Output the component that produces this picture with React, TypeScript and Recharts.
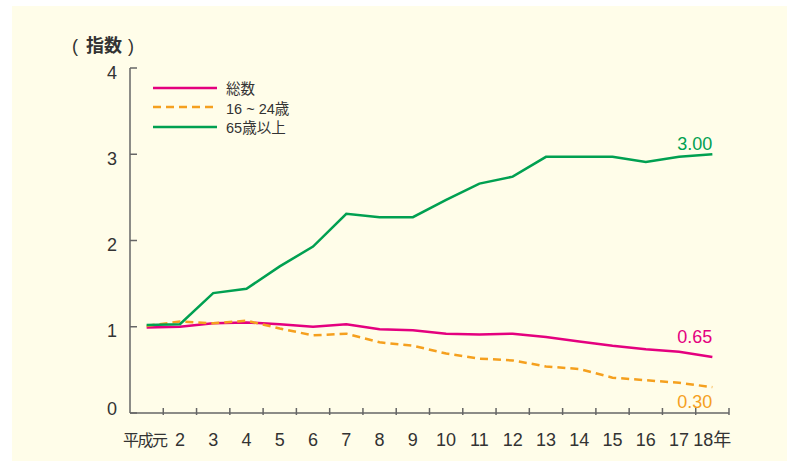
import { Legend, LabelList, Line, LineChart, XAxis, YAxis } from 'recharts';

const years = ['平成元', '2', '3', '4', '5', '6', '7', '8', '9', '10', '11', '12', '13', '14', '15', '16', '17', '18年'];
const total = [0.99, 1.0, 1.04, 1.05, 1.03, 1.0, 1.03, 0.97, 0.96, 0.92, 0.91, 0.92, 0.88, 0.83, 0.78, 0.74, 0.71, 0.65];
const youth = [1.01, 1.06, 1.04, 1.07, 0.98, 0.9, 0.92, 0.82, 0.78, 0.69, 0.63, 0.61, 0.54, 0.51, 0.41, 0.38, 0.35, 0.3];
const elderly = [1.02, 1.03, 1.39, 1.44, 1.7, 1.93, 2.31, 2.27, 2.27, 2.47, 2.66, 2.74, 2.97, 2.97, 2.97, 2.91, 2.97, 3.0];
const yTicks = [0, 1, 2, 3, 4];

const data = years.map((year, i) => ({
  year,
  total: total[i],
  youth: youth[i],
  elderly: elderly[i],
}));

const FONT = '"Liberation Sans", Arial, "Noto Sans CJK JP", sans-serif';
const AXIS = '#666666';
const TEXT = '#333333';

const series = [
  { key: 'total', name: '総数', color: '#E4007F', dash: undefined, labelDy: -14 },
  { key: 'youth', name: '16 ~ 24歳', color: '#F5A01E', dash: '8 5', labelDy: 21 },
  { key: 'elderly', name: '65歳以上', color: '#00A051', dash: undefined, labelDy: -4 },
];

const XTick = (props: any) => {
  const { x, y, payload, width, visibleTicksCount } = props;
  const half = width / visibleTicksCount / 2;
  const small = payload.value === '平成元';
  return (
    <g>
      <line x1={x + half} x2={x + half} y1={y} y2={y - 7} stroke={AXIS} strokeWidth={1.5} />
      <text
        x={x + (small ? -2 : 0)}
        y={y + 31}
        textAnchor='middle'
        fontSize={small ? 16 : 18}
        letterSpacing={small ? -1.5 : 0}
        fill={TEXT}
        fontFamily={FONT}
      >
        {payload.value}
      </text>
    </g>
  );
};

const YTick = (props: any) => {
  const { x, y, payload } = props;
  return (
    <text x={x} y={y} dy={payload.value === 0 ? 2 : 10.5} textAnchor='end' fontSize={18} fill={TEXT} fontFamily={FONT}>
      {payload.value}
    </text>
  );
};

const EndLabel = (color: string, dy: number) => (props: any) => {
  const { x, y, value, index } = props;
  if (index !== years.length - 1) return null;
  return (
    <text x={x} y={y + dy} textAnchor='end' fontSize={18} fill={color} fontFamily={FONT}>
      {Number(value).toFixed(2)}
    </text>
  );
};

const LegendBox = () => (
  <div style={{ fontFamily: FONT, fontSize: 14.5, color: TEXT }}>
    {series.map((s) => (
      <div key={s.key} style={{ display: 'flex', alignItems: 'center', height: 19.5 }}>
        <svg width={64} height={6} style={{ marginRight: 9 }}>
          <line x1={0} x2={64} y1={3} y2={3} stroke={s.color} strokeWidth={2.5} strokeDasharray={s.dash} />
        </svg>
        <span>{s.name}</span>
      </div>
    ))}
  </div>
);

export default function App() {
  return (
    <div style={{ position: 'absolute', left: 0, top: 0, width: 787, height: 461, background: '#ffffff', fontFamily: FONT }}>
      <div style={{ position: 'absolute', left: 12, top: 6, right: 0, bottom: 0, background: '#FFFDE9' }} />
      <div style={{ position: 'absolute', left: 72, top: 31, fontSize: 18, color: TEXT, whiteSpace: 'pre' }}>
        <span>(</span>
        <span style={{ fontWeight: 600, margin: '0 6px 0 8px' }}>指数</span>
        <span>)</span>
      </div>
      <LineChart
        width={787}
        height={461}
        data={data}
        margin={{ top: 68, right: 58, bottom: 0, left: 100 }}
        style={{ position: 'absolute', left: 0, top: 0 }}
      >
        <XAxis
          dataKey='year'
          scale='band'
          height={48}
          interval={0}
          stroke={AXIS}
          strokeWidth={1.5}
          tickLine={false}
          tickSize={0}
          tick={<XTick />}
        />
        <YAxis
          domain={[0, 4]}
          ticks={yTicks}
          width={30}
          stroke={AXIS}
          strokeWidth={1.5}
          tickSize={-7}
          tickMargin={20}
          tick={<YTick />}
        />
        <Legend
          layout='vertical'
          align='center'
          verticalAlign='middle'
          content={<LegendBox />}
          wrapperStyle={{ left: 153, top: 78, width: 200 }}
        />
        {series.map((s) => (
          <Line
            key={s.key}
            dataKey={s.key}
            name={s.name}
            type='linear'
            stroke={s.color}
            strokeWidth={2.5}
            strokeDasharray={s.dash}
            dot={false}
            isAnimationActive={false}
          >
            <LabelList dataKey={s.key} content={EndLabel(s.color, s.labelDy)} />
          </Line>
        ))}
      </LineChart>
    </div>
  );
}
